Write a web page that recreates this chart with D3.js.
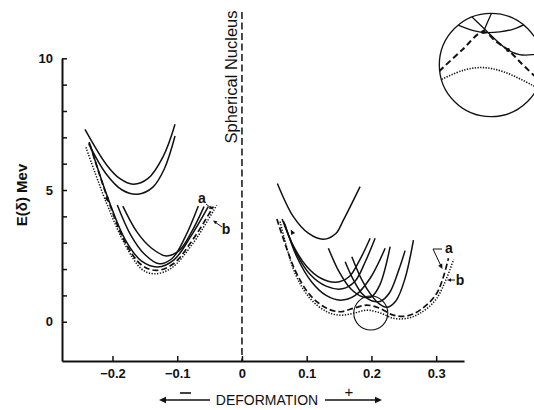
<!DOCTYPE html>
<meta charset="utf-8">
<script src="https://cdn.jsdelivr.net/npm/d3@7"></script>
<style>
  body { margin: 0; background: #fff; }
  svg { font-family: "Liberation Sans", Arial, sans-serif; }
</style>
<body>
<script>

var width = 534
var height = 410

// axes
var xTicks = [-0.2, -0.1, 0, 0.1, 0.2, 0.3]
var xTickLabels = ["\u22120.2", "\u22120.1", "0", "0.1", "0.2", "0.3"]
var yTicks = [0, 1, 2, 3, 4, 5, 6, 7, 8, 9, 10]
var yTickLabels = ["0", "", "", "", "", "5", "", "", "", "", "10"]

// oblate side (negative deformation)
var leftUpperA = [[-0.2425, 7.30], [-0.209, 5.95], [-0.189, 5.44], [-0.168, 5.22], [-0.145, 5.44], [-0.122, 6.26], [-0.1034, 7.50]]
var leftUpperB = [[-0.237, 6.77], [-0.21, 5.62], [-0.185, 5.0], [-0.161, 4.84], [-0.138, 5.1], [-0.12, 5.8], [-0.1034, 7.05]]
var leftPartA = [[-0.1926, 4.43], [-0.172, 3.3], [-0.15, 2.55], [-0.128, 2.2], [-0.108, 2.4], [-0.088, 3.2], [-0.0674, 4.39]]
var leftPartB = [[-0.184, 4.39], [-0.162, 3.4], [-0.14, 2.8], [-0.117, 2.5], [-0.097, 2.7], [-0.078, 3.4], [-0.0586, 4.37]]
var leftFull = [[-0.236, 6.82], [-0.206, 4.62], [-0.18, 3.1], [-0.155, 2.3], [-0.13, 2.08], [-0.105, 2.35], [-0.08, 3.2], [-0.052, 4.37]]
var leftDashed = [[-0.2348, 6.72], [-0.205, 4.5], [-0.18, 3.0], [-0.155, 2.15], [-0.132, 1.95], [-0.106, 2.2], [-0.075, 3.15], [-0.0442, 4.37]]
var leftDotted = [[-0.241, 6.62], [-0.21, 4.55], [-0.18, 2.9], [-0.155, 2.0], [-0.136, 1.82], [-0.11, 2.02], [-0.075, 3.0], [-0.039, 4.43]]

// prolate side (positive deformation)
var rightUpper = [[0.0547, 5.25], [0.0794, 3.99], [0.103, 3.35], [0.1258, 3.13], [0.145, 3.35], [0.1567, 3.86], [0.1825, 5.13]]
var rightFullA = [[0.062, 3.9], [0.08, 2.85], [0.1, 2.1], [0.122, 1.65], [0.145, 1.5], [0.165, 1.7], [0.182, 2.35], [0.198, 3.17]]
var rightFullB = [[0.064, 3.82], [0.083, 2.65], [0.105, 1.8], [0.13, 1.35], [0.155, 1.25], [0.175, 1.55], [0.19, 2.25], [0.2057, 3.17]]
var rightFullC = [[0.066, 3.72], [0.085, 2.45], [0.108, 1.5], [0.13, 1.0], [0.152, 0.82], [0.175, 1.0], [0.198, 1.65], [0.2212, 2.79]]
var rightPartA = [[0.1335, 2.79], [0.15, 1.9], [0.168, 1.25], [0.186, 0.95], [0.2, 0.95], [0.213, 1.4], [0.2289, 2.85]]
var rightPartB = [[0.1594, 2.28], [0.172, 1.6], [0.186, 1.05], [0.2, 0.8], [0.214, 0.78], [0.228, 1.1], [0.242, 1.95], [0.252, 2.7]]
var rightPartC = [[0.1697, 2.47], [0.185, 1.6], [0.2, 1.0], [0.212, 0.68], [0.224, 0.55], [0.238, 0.8], [0.252, 1.65], [0.2649, 3.1]]
var rightDashed = [[0.054, 3.9], [0.082, 1.96], [0.105, 1.02], [0.131, 0.51], [0.152, 0.38], [0.172, 0.51], [0.193, 0.63], [0.213, 0.51], [0.234, 0.25], [0.255, 0.22], [0.275, 0.44], [0.301, 1.08], [0.319, 2.41]]
var rightDotted = [[0.0589, 3.8], [0.082, 1.84], [0.105, 0.89], [0.131, 0.38], [0.152, 0.25], [0.172, 0.32], [0.193, 0.44], [0.213, 0.34], [0.234, 0.13], [0.255, 0.13], [0.275, 0.32], [0.301, 0.89], [0.327, 2.37]]

// small circle marking the region blown up in the inset
var magnifier = [0.199, 0.33]

// inset, in units of its own radius
var insetArc = [[-0.7, 0.8], [-0.42, 0.69], [-0.15, 0.63], [0.17, 0.64], [0.45, 0.7], [0.72, 0.82]]
var insetSolidA = [[-0.41, 0.97], [-0.15, 0.72], [0.1, 0.48], [0.33, 0.29], [0.55, 0.2], [0.8, 0.2], [1.0, 0.25]]
var insetSolidB = [[0.01, 1.0], [-0.07, 0.82], [-0.15, 0.64]]
var insetDashed = [[-1.0, -0.12], [-0.56, 0.29], [-0.15, 0.64], [0.1, 0.45], [0.33, 0.29], [0.6, 0.02], [0.85, -0.22], [1.0, -0.36]]
var insetDotted = [[-1.0, -0.3], [-0.53, -0.1], [-0.15, -0.05], [0.24, -0.13], [0.78, -0.38], [1.0, -0.5]]
var insetDots = [[-0.15, 0.64], [0.33, 0.29]]

var x = d3.scaleLinear().domain([-0.278, 0.343]).range([62, 464])
var y = d3.scaleLinear().domain([-1.49, 10]).range([361, 58.3])

var svg = d3.select("body").append("svg")
            .attr("width", width)
            .attr("height", height)

var ink = "#111"

// axes
var gy = svg.append("g")
    .attr("transform", "translate(" + x.range()[0] + ",0)")
    .call(d3.axisLeft(y).tickValues(yTicks).tickSize(-5).tickSizeOuter(0).tickPadding(9)
          .tickFormat(function(d, i) { return yTickLabels[i] }))
var gx = svg.append("g")
    .attr("transform", "translate(0," + y.range()[0] + ")")
    .call(d3.axisBottom(x).tickValues(xTicks).tickSize(-5).tickSizeOuter(0).tickPadding(8)
          .tickFormat(function(d, i) { return xTickLabels[i] }))

svg.selectAll(".domain").attr("stroke", ink).attr("stroke-width", 2)
svg.selectAll(".tick line").attr("stroke", ink).attr("stroke-width", 1.5)
svg.selectAll(".tick text").attr("fill", ink).style("font-size", "13px")
   .style("font-weight", "bold")
   .style("font-family", "'Liberation Sans', Arial, sans-serif")

// spherical nucleus line
svg.append("line")
   .attr("x1", x(0)).attr("x2", x(0))
   .attr("y1", 12).attr("y2", y.range()[0])
   .attr("stroke", ink).attr("stroke-width", 1.5)
   .attr("stroke-dasharray", "7,3.5")

svg.append("text")
   .attr("transform", "translate(237,77) rotate(-90)")
   .style("text-anchor", "middle")
   .style("font-size", "16.5px")
   .attr("fill", ink)
   .text("Spherical Nucleus")

svg.append("text")
   .attr("transform", "translate(27,195) rotate(-90)")
   .style("text-anchor", "middle")
   .style("font-size", "15px")
   .style("font-weight", "bold")
   .attr("fill", ink)
   .text("E(\u03b4) Mev")

// curves
var line = d3.line()
    .x(function(d) { return x(d[0]) })
    .y(function(d) { return y(d[1]) })
    .curve(d3.curveCatmullRom.alpha(0.5))

function curve(data, dash, w) {
  svg.append("path")
     .attr("d", line(data))
     .attr("fill", "none")
     .attr("stroke", ink)
     .attr("stroke-width", w || 1.5)
     .attr("stroke-dasharray", dash || null)
}

var solids = [leftUpperA, leftUpperB, leftPartA, leftPartB, leftFull,
              rightUpper, rightFullA, rightFullB, rightFullC, rightPartA, rightPartB, rightPartC]
solids.forEach(function(c) { curve(c) })
curve(leftDashed, "6,3", 1.7)
curve(rightDashed, "6,3", 1.7)
curve(leftDotted, "1.3,1.5", 1.5)
curve(rightDotted, "1.3,1.5", 1.5)

svg.append("circle")
   .attr("cx", x(magnifier[0])).attr("cy", y(magnifier[1]))
   .attr("r", 17)
   .attr("fill", "none").attr("stroke", ink).attr("stroke-width", 1.1)

// small arrowheads on the curves
function arrowHead(px, py, angle, size) {
  var s = size || 5
  svg.append("path")
     .attr("d", "M0,0L" + (-s) + "," + (-s * 0.45) + "L" + (-s) + "," + (s * 0.45) + "Z")
     .attr("transform", "translate(" + px + "," + py + ") rotate(" + angle + ")")
     .attr("fill", ink)
}
arrowHead(x(-0.2065), y(4.55), 68)
arrowHead(x(0.0754), y(3.5), -118)

// a / b labels
function label(t, px, py) {
  svg.append("text").attr("x", px).attr("y", py)
     .style("font-size", "14px").style("text-anchor", "middle")
     .style("font-weight", "bold")
     .attr("fill", ink).text(t)
}
label("a", 202, 203)
label("b", 226, 234)
svg.append("line").attr("x1", 206).attr("y1", 204).attr("x2", 211).attr("y2", 208).attr("stroke", ink)
arrowHead(213, 209.5, 38, 4)
svg.append("line").attr("x1", 222).attr("y1", 227).attr("x2", 215).attr("y2", 222).attr("stroke", ink)
arrowHead(213, 220.5, -145, 4)

label("a", 449, 253)
svg.append("path").attr("d", "M442,249L433,249L441,266").attr("fill", "none").attr("stroke", ink)
arrowHead(442.5, 269, 62, 5)
label("b", 460, 285)
svg.append("line").attr("x1", 455).attr("y1", 280).attr("x2", 450).attr("y2", 280).attr("stroke", ink)
arrowHead(447, 280, 180, 4)

// inset
var icx = 491, icy = 65, ir = 51.7
var ix = d3.scaleLinear().domain([-1, 1]).range([icx - ir, icx + ir])
var iy = d3.scaleLinear().domain([-1, 1]).range([icy + ir, icy - ir])
svg.append("clipPath").attr("id", "insetClip")
   .append("circle").attr("cx", icx).attr("cy", icy).attr("r", ir)
var inset = svg.append("g").attr("clip-path", "url(#insetClip)")
var iline = d3.line()
    .x(function(d) { return ix(d[0]) })
    .y(function(d) { return iy(d[1]) })
    .curve(d3.curveCatmullRom.alpha(0.5))
function icurve(data, dash, w) {
  inset.append("path").attr("d", iline(data))
       .attr("fill", "none").attr("stroke", ink)
       .attr("stroke-width", w || 1.3)
       .attr("stroke-dasharray", dash || null)
}
icurve(insetArc)
icurve(insetSolidA)
icurve(insetSolidB)
icurve(insetDashed, "6,3.5", 2)
icurve(insetDotted, "1.3,1.4", 1.6)
inset.selectAll(".dot").data(insetDots).enter().append("circle")
     .attr("cx", function(d) { return ix(d[0]) })
     .attr("cy", function(d) { return iy(d[1]) })
     .attr("r", 2).attr("fill", ink)
svg.append("circle").attr("cx", icx).attr("cy", icy).attr("r", ir)
   .attr("fill", "none").attr("stroke", ink).attr("stroke-width", 1.3)

// deformation label with arrows
svg.append("text").attr("x", 267).attr("y", 405)
   .style("text-anchor", "middle").style("font-size", "14px")
   .attr("fill", ink).text("DEFORMATION")
svg.append("line").attr("x1", 210).attr("x2", 164).attr("y1", 400).attr("y2", 400).attr("stroke", ink).attr("stroke-width", 1.3)
arrowHead(159, 400, 180, 7)
svg.append("line").attr("x1", 180).attr("x2", 191).attr("y1", 393).attr("y2", 393).attr("stroke", ink).attr("stroke-width", 1.6)
svg.append("line").attr("x1", 325).attr("x2", 376).attr("y1", 400).attr("y2", 400).attr("stroke", ink).attr("stroke-width", 1.3)
arrowHead(382, 400, 0, 7)
svg.append("text").attr("x", 349).attr("y", 397)
   .style("text-anchor", "middle").style("font-size", "15px")
   .attr("fill", ink).text("+")

</script>
</body>
